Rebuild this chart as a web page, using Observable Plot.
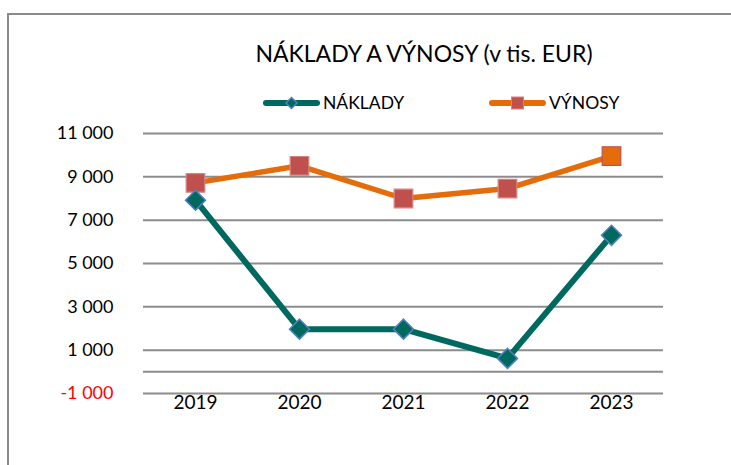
<!DOCTYPE html>
<html><head><meta charset="utf-8">
<script src="https://cdn.jsdelivr.net/npm/d3@7"></script>
<script src="https://cdn.jsdelivr.net/npm/@observablehq/plot@0.6"></script>
<style>
body{margin:0;background:#fff;font-family:Lato,"Open Sans",sans-serif;}
#wrap{position:relative;width:731px;height:465px;overflow:hidden;background:#fff;}
#frame{position:absolute;left:7px;top:13px;width:800px;height:520px;border:2px solid #8a8a8a;box-sizing:border-box;}
#chart{position:absolute;left:0;top:0;}
#title{position:absolute;left:0;width:848px;top:39px;text-align:center;font-size:23px;color:#000;white-space:nowrap;}
.leg{position:absolute;top:92px;font-size:17.5px;color:#000;display:flex;align-items:center;white-space:nowrap;}
.leg svg{display:block;margin-right:3px;}
</style></head>
<body>
<div id="wrap">
  <div id="frame"></div>
  <div id="chart"></div>
  <div id="title"></div>
  <div class="leg" id="leg1" style="left:263px"></div>
  <div class="leg" id="leg2" style="left:489px"></div>
</div>
<script>
const titleText = "NÁKLADY A VÝNOSY (v tis. EUR)";
const years = ["2019", "2020", "2021", "2022", "2023"];
const naklady = [7920, 1970, 1970, 620, 6300];
const vynosy = [8720, 9510, 8000, 8460, 9960];
const seriesNames = ["NÁKLADY", "VÝNOSY"];
const yTicks = [-1000, 1000, 3000, 5000, 7000, 9000, 11000];
const gridLines = [-1000, 0, 1000, 3000, 5000, 7000, 9000, 11000];

const teal = "#00695f", orange = "#e46c0a", red = "#c0504d", blue = "#4f81bd";

const rowsN = years.map((y, i) => ({year: y, value: naklady[i]}));
const rowsV = years.map((y, i) => ({year: y, value: vynosy[i]}));
const fmt = d => d3.format(",")(d).replace(/,/g, " ").replace("−", "-");

const plot = Plot.plot({
  width: 731, height: 465,
  marginLeft: 143, marginRight: 68, marginTop: 133, marginBottom: 72,
  style: {fontFamily: "Lato, 'Open Sans', sans-serif", fontSize: "18px", color: "#000", background: "transparent"},
  x: {type: "point", domain: years, padding: 0.5},
  y: {domain: [-1000, 11000]},
  marks: [
    Plot.ruleY(gridLines, {stroke: "#8c8c8c", strokeWidth: 2}),
    Plot.axisY(yTicks.filter(d => d >= 0), {tickSize: 0, tickPadding: 30, tickFormat: fmt, fill: "#000", label: null, fontSize: 18}),
    Plot.axisY(yTicks.filter(d => d < 0), {tickSize: 0, tickPadding: 30, tickFormat: fmt, fill: "#ff0000", label: null, fontSize: 18}),
    Plot.axisX(years, {tickSize: 0, tickPadding: 2, label: null, fill: "#000", fontSize: 19}),
    Plot.line(rowsV, {x: "year", y: "value", stroke: orange, strokeWidth: 5.5}),
    Plot.line(rowsN, {x: "year", y: "value", stroke: teal, strokeWidth: 6}),
    Plot.dot(rowsV, {x: "year", y: "value", symbol: "square", r: 10.5,
      fill: (d, i) => i === rowsV.length - 1 ? orange : red,
      stroke: (d, i) => i === rowsV.length - 1 ? red : "#d8827f", strokeWidth: 1.2}),
    Plot.dot(rowsN, {x: "year", y: "value", symbol: "diamond2", r: 9, fill: teal, stroke: blue, strokeWidth: 1.5})
  ]
});
document.getElementById("chart").appendChild(plot);
document.getElementById("title").textContent = titleText;

function legendItem(id, color, markerSvg, name) {
  const el = document.getElementById(id);
  el.innerHTML = `<svg width="57" height="16" viewBox="0 0 57 16"><line x1="3" y1="8" x2="54" y2="8" stroke="${color}" stroke-width="6" stroke-linecap="round"/>${markerSvg}</svg><span>${name}</span>`;
}
legendItem("leg1", teal, `<path d="M28.5 2.5 L34 8 L28.5 13.5 L23 8 Z" fill="${teal}" stroke="${blue}" stroke-width="1.5"/>`, seriesNames[0]);
legendItem("leg2", orange, `<rect x="22.5" y="2" width="12" height="12" fill="${red}" stroke="#d8827f" stroke-width="1"/>`, seriesNames[1]);
</script>
</body></html>
